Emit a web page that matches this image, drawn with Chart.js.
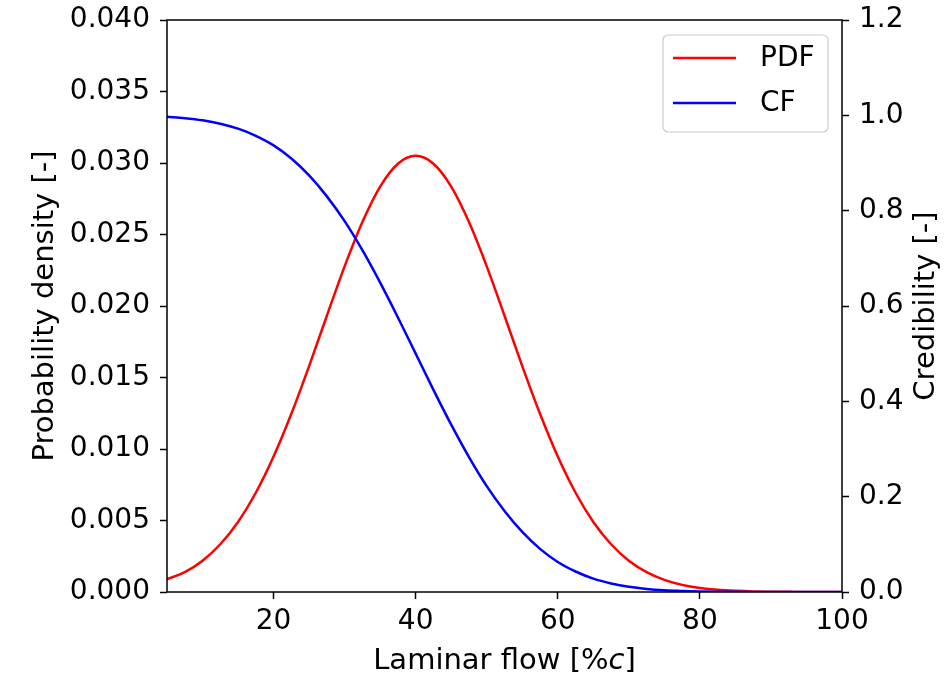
<!DOCTYPE html>
<html><head><meta charset="utf-8">
<script src="https://cdn.jsdelivr.net/npm/chart.js@4/dist/chart.umd.min.js"></script>
<style>html,body{margin:0;padding:0;background:#fff;} canvas{display:block;}</style>
</head><body>
<canvas id="c" width="945" height="676"></canvas>
<script>
// ---- data ----
const xValues = [5,7.5,10,12.5,15,17.5,20,22.5,25,27.5,30,32.5,35,37.5,40,42.5,45,47.5,50,52.5,55,57.5,60,62.5,65,67.5,70,72.5,75,77.5,80,82.5,85,87.5,90,92.5,95,97.5,100];
const pdfValues = [0.00090,0.00139,0.00219,0.00334,0.00490,0.00694,0.00947,0.01246,0.01580,0.01932,0.02277,0.02587,0.02835,0.02995,0.03050,0.02995,0.02835,0.02587,0.02277,0.01932,0.01580,0.01246,0.00947,0.00694,0.00490,0.00334,0.00219,0.00139,0.00085,0.00050,0.00028,0.00015,0.00008,0.00004,0.00002,0.00001,0,0,0];
const cfValues = [0.997,0.994,0.9895,0.9825,0.972,0.957,0.937,0.9095,0.874,0.830,0.778,0.717,0.649,0.576,0.500,0.424,0.351,0.283,0.222,0.170,0.126,0.0905,0.063,0.043,0.028,0.018,0.011,0.0065,0.0037,0.0021,0.0011,0.0006,0.0003,0.0001,0,0,0,0,0];
const xTicks = [20,40,60,80,100];
const seriesNames = ['PDF','CF'];
const xTitleParts = [['Laminar flow [%',''],['c','italic '],[']','']];
const yLeftTitle = 'Probability density [-]';
const yRightTitle = 'Credibility [-]';

const FAMILY = "'DejaVu Sans', sans-serif";
const TICK_SIZE = 28, TITLE_SIZE = 29, LEG_SIZE = 28;

const overlay = {
  id: 'overlay',
  afterDatasetsDraw(chart) {
    const {ctx, chartArea: a} = chart;
    ctx.save();
    ctx.strokeStyle = '#000'; ctx.lineWidth = 1.5;
    ctx.strokeRect(a.left, a.top, a.right - a.left, a.bottom - a.top);
    ctx.restore();
  },
  afterDraw(chart) {
    const {ctx, chartArea: a} = chart;
    ctx.save();
    ctx.fillStyle = '#000';
    ctx.textBaseline = 'middle';
    const cy = (a.top + a.bottom) / 2;
    ctx.save();
    ctx.translate(45, cy); ctx.rotate(-Math.PI/2);
    ctx.font = TITLE_SIZE + 'px ' + FAMILY; ctx.textAlign = 'center';
    ctx.fillText(yLeftTitle, 0, 0);
    ctx.restore();
    ctx.save();
    ctx.translate(926, cy); ctx.rotate(-Math.PI/2);
    ctx.font = TITLE_SIZE + 'px ' + FAMILY; ctx.textAlign = 'center';
    ctx.fillText(yRightTitle, 0, 0);
    ctx.restore();
    let total = 0;
    xTitleParts.forEach(p => { ctx.font = p[1] + TITLE_SIZE + 'px ' + FAMILY; total += ctx.measureText(p[0]).width; });
    let x = (a.left + a.right) / 2 - total / 2;
    ctx.textAlign = 'left';
    xTitleParts.forEach(p => { ctx.font = p[1] + TITLE_SIZE + 'px ' + FAMILY; ctx.fillText(p[0], x, 661); x += ctx.measureText(p[0]).width; });
    const bw = 165, bh = 97;
    const bx = a.right - 14 - bw, by = a.top + 15;
    ctx.beginPath();
    if (ctx.roundRect) ctx.roundRect(bx, by, bw, bh, 5); else ctx.rect(bx, by, bw, bh);
    ctx.fillStyle = 'rgba(255,255,255,0.8)'; ctx.fill();
    ctx.strokeStyle = '#cccccc'; ctx.lineWidth = 1.2; ctx.stroke();
    chart.data.datasets.forEach((ds, i) => {
      const ly = by + 23 + i * 45;
      ctx.beginPath(); ctx.moveTo(bx + 10, ly); ctx.lineTo(bx + 73, ly);
      ctx.strokeStyle = ds.borderColor; ctx.lineWidth = 2.5; ctx.stroke();
      ctx.fillStyle = '#000'; ctx.font = LEG_SIZE + 'px ' + FAMILY; ctx.textAlign = 'left';
      ctx.fillText(ds.label, bx + 97, ly + 1);
    });
    ctx.restore();
  }
};

const tickCommon = (extra) => Object.assign({
  font: {family: FAMILY, size: TICK_SIZE}, color: '#000', padding: 10
}, extra);
const gridCommon = {drawOnChartArea: false, tickLength: 7, tickWidth: 1.5, tickColor: '#000'};
const noPad = s => { s.paddingTop = 0; s.paddingBottom = 0; s.paddingLeft = 0; s.paddingRight = 0; };

new Chart(document.getElementById('c'), {
  type: 'line',
  data: {
    datasets: [
      {label: seriesNames[0], data: xValues.map((x, i) => ({x, y: pdfValues[i]})), yAxisID: 'y',
       borderColor: '#ff0000', borderWidth: 2.5, pointRadius: 0, cubicInterpolationMode: 'monotone', fill: false, order: 1},
      {label: seriesNames[1], data: xValues.map((x, i) => ({x, y: cfValues[i]})), yAxisID: 'y2',
       borderColor: '#0000ff', borderWidth: 2.5, pointRadius: 0, cubicInterpolationMode: 'monotone', fill: false, order: 0}
    ]
  },
  options: {
    responsive: false, animation: false,
    layout: {padding: {top: 20, left: 0, right: 0, bottom: 0}},
    plugins: {legend: {display: false}, tooltip: {enabled: false}},
    scales: {
      x: {type: 'linear', min: 5, max: 100,
          afterBuildTicks: s => { s.ticks = xTicks.map(v => ({value: v})); },
          afterFit: s => { s.height = 84; noPad(s); },
          grid: gridCommon, border: {display: false},
          ticks: tickCommon({padding: 6, maxRotation: 0, autoSkip: false})},
      y: {position: 'left', min: 0, max: 0.04,
          afterFit: s => { s.width = 167; noPad(s); },
          grid: gridCommon, border: {display: false},
          ticks: tickCommon({stepSize: 0.005, callback: v => Number(v).toFixed(3)})},
      y2: {position: 'right', min: 0, max: 1.2,
          afterFit: s => { s.width = 103; noPad(s); },
          grid: gridCommon, border: {display: false},
          ticks: tickCommon({stepSize: 0.2, callback: v => Number(v).toFixed(1)})}
    }
  },
  plugins: [overlay]
});
</script>
</body></html>
